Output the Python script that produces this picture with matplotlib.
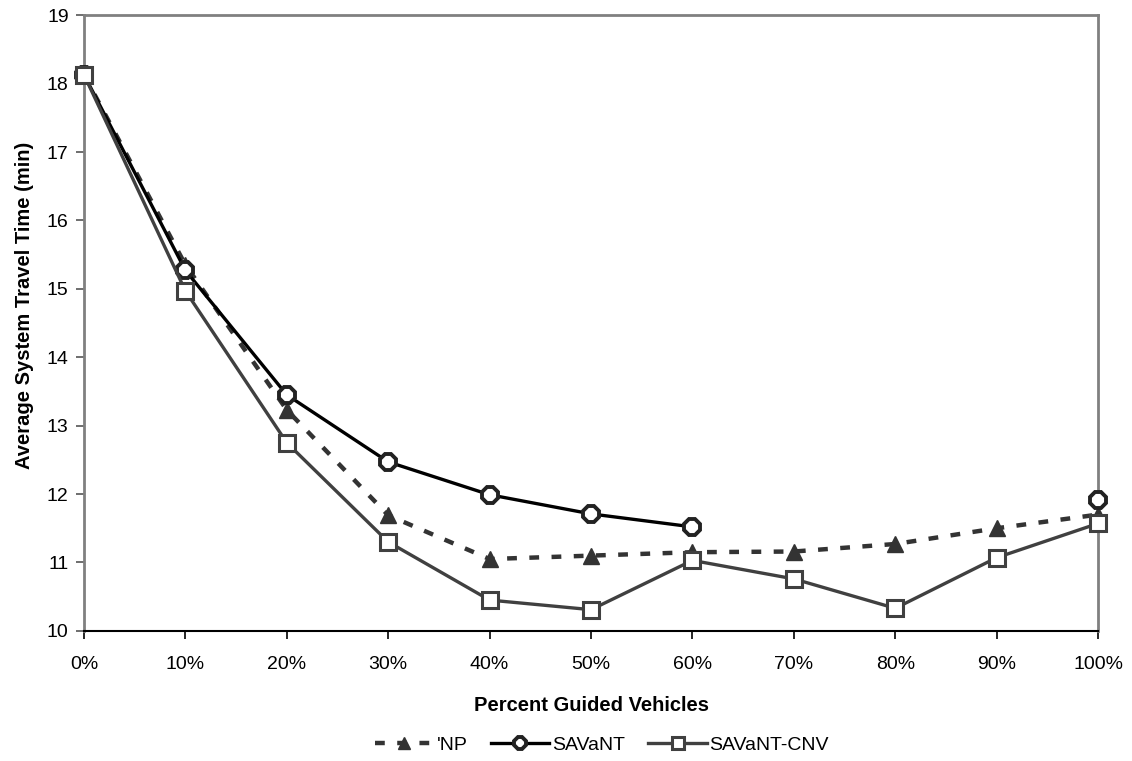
import numpy as np
import matplotlib
matplotlib.use("Agg")
import matplotlib.pyplot as plt
from matplotlib.ticker import FixedLocator

plt.rcParams['font.family'] = ['Liberation Sans', 'DejaVu Sans']

x_labels = ['0%', '10%', '20%', '30%', '40%', '50%', '60%', '70%', '80%', '90%', '100%']
np_vals = [18.13, 15.35, 13.23, 11.69, 11.05, 11.10, 11.15, 11.16, 11.27, 11.50, 11.70]
savant_vals = [18.13, 15.27, 13.45, 12.47, 11.99, 11.71, 11.52, np.nan, np.nan, np.nan, 11.91]
cnv_vals = [18.13, 14.97, 12.75, 11.30, 10.45, 10.31, 11.03, 10.76, 10.33, 11.07, 11.57]

x = np.arange(len(x_labels))

fig = plt.figure(figsize=(11.32, 7.61), dpi=100)
ax = fig.add_axes([0.0742, 0.171, 0.8958, 0.809])

l1, = ax.plot(x, np_vals, color='#333333', lw=3.2, dashes=(2.2, 2.8),
              marker='^', ms=12, mfc='#333333', mec='#333333', label="'NP", zorder=3, clip_on=False)
l2, = ax.plot(x, savant_vals, color='black', lw=2.4,
              marker='8', ms=12, mfc='white', mec='#222222', mew=2.8, label='SAVaNT', zorder=4, clip_on=False)
l3, = ax.plot(x, cnv_vals, color='#404040', lw=2.4,
              marker='s', ms=11, mfc='white', mec='#404040', mew=2.2, label='SAVaNT-CNV', zorder=5, clip_on=False)

ax.set_xlim(0, 10)
ax.set_ylim(10, 19)
ax.xaxis.set_major_locator(FixedLocator(x))
ax.set_xticklabels(x_labels)
ax.set_yticks(range(10, 20))

for s in ['left', 'top', 'right']:
    ax.spines[s].set_color('#808080')
    ax.spines[s].set_linewidth(2)
ax.spines['bottom'].set_color('black')
ax.spines['bottom'].set_linewidth(1.5)

ax.tick_params(axis='y', direction='out', length=6, width=1.2, color='#555555', labelsize=14, pad=5)
ax.tick_params(axis='x', direction='out', length=6, width=1.2, color='black', labelsize=14, pad=12)

ax.set_xlabel('Percent Guided Vehicles', fontsize=14.5, fontweight='bold')
ax.set_ylabel('Average System Travel Time (min)', fontsize=14.5, fontweight='bold')
ax.xaxis.set_label_coords(0.5, -0.105)
ax.yaxis.set_label_coords(-0.049, 0.529)

leg = fig.legend(handles=[l1, l2, l3], loc='center', bbox_to_anchor=(0.532, 0.021), ncol=3,
                 frameon=False, fontsize=14, handlelength=3.0, columnspacing=1.2,
                 handletextpad=0.15, markerscale=0.75)

fig.savefig('out.png', dpi=100)
